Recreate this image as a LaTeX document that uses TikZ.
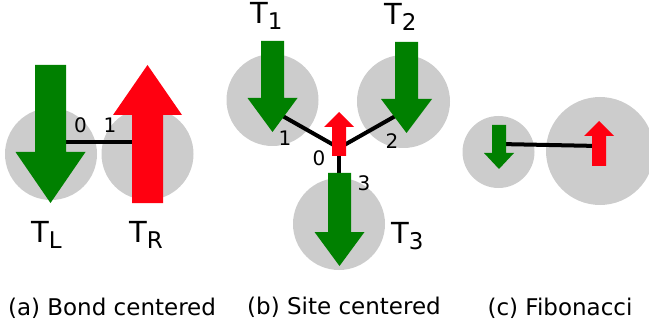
\documentclass[tikz,border=0pt]{standalone}
\usepackage{fontspec}
\setmainfont{DejaVu Sans}
\definecolor{spingreen}{HTML}{008000}
\definecolor{spinred}{HTML}{FF0010}
\definecolor{sitegray}{HTML}{CCCCCC}
\tikzset{
  site/.style={circle, fill=sitegray, draw=none, inner sep=0pt},
  bondline/.style={line width=4pt, black},
  dnspin/.style={fill=spingreen},
  upspin/.style={fill=spinred},
  idx/.style={font=\fontsize{20}{20}\selectfont, anchor=base, inner sep=0pt},
  tlabel/.style={font=\fontsize{29}{29}\selectfont, anchor=base west, inner sep=0pt},
  captiontext/.style={font=\fontsize{23}{23}\selectfont, anchor=base, inner sep=0pt},
}
% #1 style, #2 centre x, #3 half shaft width, #4 shaft end, #5 head base, #6 half head width, #7 tip
\newcommand\spinpoly[7]{%
  \fill[#1] ({#2-#3},#4) -- ({#2+#3},#4) -- ({#2+#3},#5) -- ({#2+#6},#5)
    -- (#2,#7) -- ({#2-#6},#5) -- ({#2-#3},#5) -- cycle;}
\newcommand\Tsub[1]{T\raisebox{-6pt}{\fontsize{23}{23}\selectfont #1}}
\begin{document}
\begin{tikzpicture}[x=1pt,y=-1pt]
\useasboundingbox (0,0) rectangle (649,329);
\begin{scope}
\clip (0,0) rectangle (649,329);
% ---------- (a) bond centered
\node[site, minimum size=92pt] (aL) at (51,154) {};
\node[site, minimum size=92pt] (aR) at (147.5,154) {};
\coordinate (aLc) at (50.5,142);
\coordinate (aRc) at (147.5,142);
\draw[bondline] (aLc) -- (aRc);
\spinpoly{dnspin}{50.5}{15.5}{65}{152}{35}{203}
\spinpoly{upspin}{147.5}{15.5}{203}{115}{34.5}{65}
\node[idx] (a0) at (80.5,133) {0};
\node[idx] (a1) at (110,133) {1};
\node[tlabel] (TL) at (31,242) {\Tsub{L}};
\node[tlabel] (TR) at (129,242) {\Tsub{R}};
% ---------- (b) site centered
\node[site, minimum size=92pt] (b1) at (272.5,100) {};
\node[site, minimum size=93pt] (b2) at (403.5,101.5) {};
\node[site, minimum size=92pt] (b3) at (339,224) {};
\coordinate (c0) at (339,148);
\coordinate (c1) at (272,110);
\coordinate (c2) at (406,110);
\coordinate (c3) at (339,200);
\draw[bondline] (c0) -- (c1);
\draw[bondline] (c0) -- (c2);
\draw[bondline] (c0) -- (c3);
\spinpoly{dnspin}{272.5}{11.5}{41}{98}{25}{132}
\spinpoly{dnspin}{406.5}{11.5}{42}{99}{25.5}{133}
\spinpoly{dnspin}{339.5}{11.5}{173}{232}{25}{266}
\spinpoly{upspin}{339}{7}{156}{127}{15}{112}
\node[idx] (b1l) at (285,146) {1};
\node[idx] (b2l) at (392,149) {2};
\node[idx] (b0l) at (319,165) {0};
\node[idx] (b3l) at (364,190) {3};
\node[tlabel] (T1) at (250,24) {\Tsub{1}};
\node[tlabel] (T2) at (384,25) {\Tsub{2}};
\node[tlabel] (T3) at (391,243) {\Tsub{3}};
% ---------- (c) Fibonacci
\node[site, minimum size=72pt] (cS) at (498.5,152) {};
\node[site, minimum size=108pt] (cB) at (600,151) {};
\coordinate (cLc) at (499,144);
\coordinate (cRc) at (599,146);
\draw[bondline] (cLc) -- (cRc);
\spinpoly{dnspin}{499}{7}{125}{153}{15}{169}
\spinpoly{upspin}{599}{7}{166}{136}{15}{121}
% ---------- captions
\node[captiontext] (capa) at (112,315) {(a) Bond centered};
\node[captiontext] (capb) at (344,314) {(b) Site centered};
\node[captiontext] (capc) at (560,315) {(c) Fibonacci};
\end{scope}
\end{tikzpicture}
\end{document}
